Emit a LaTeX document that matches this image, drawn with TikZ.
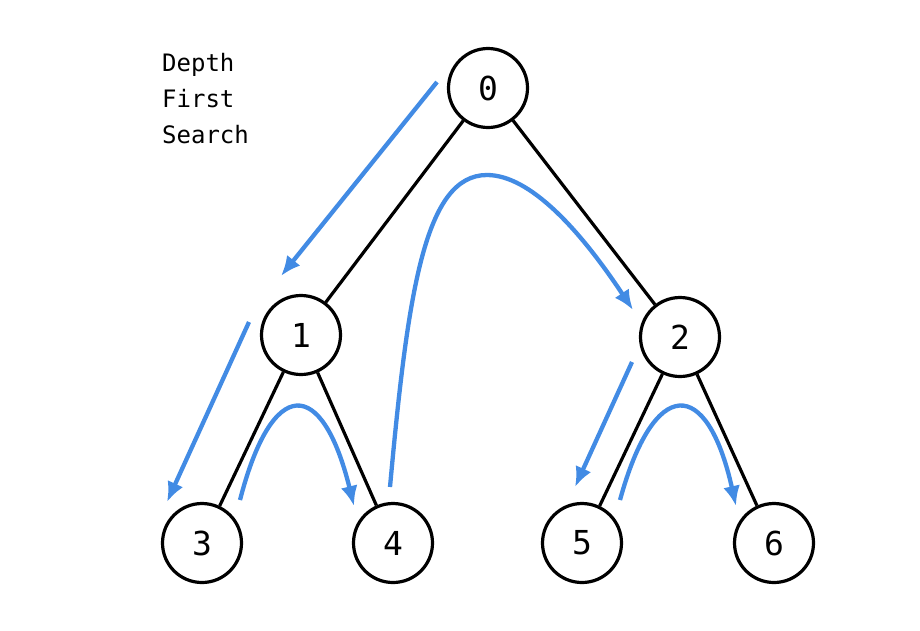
\documentclass[tikz,border=0pt]{standalone}
\usepackage{fontspec}
\setmonofont{DejaVu Sans Mono}
\newfontfamily\digitfont{DejaVu Sans Mono}
\usetikzlibrary{arrows.meta}
\definecolor{dfsblue}{RGB}{66,139,228}
\begin{document}
\begin{tikzpicture}[x=1pt,y=-1pt,
  vert/.style={circle,draw=black,line width=3.2pt,minimum size=79pt,inner sep=0pt,
    font=\digitfont\fontsize{33}{33}\selectfont},
  edge/.style={draw=black,line width=3.2pt},
  walk/.style={draw=dfsblue,line width=4.3pt,-{Latex[length=20pt,width=17pt]}},
  title/.style={anchor=base west,inner sep=0pt,font=\ttfamily\fontsize{24}{24}\selectfont}]
\useasboundingbox (0,0) rectangle (920,630);
\node[title] (t1) at (162,71) {Depth};
\node[title] (t2) at (162,107) {First};
\node[title] (t3) at (162,143) {Search};
\node[vert] (n0) at (488,88) {0};
\node[vert] (n1) at (301,335) {1};
\node[vert] (n2) at (680,337) {2};
\node[vert] (n3) at (202,543) {3};
\node[vert] (n4) at (393,543) {4};
\node[vert] (n5) at (582,543) {5};
\node[vert] (n6) at (774,543) {6};
\draw[edge] (n0) -- (n1);
\draw[edge] (n0) -- (n2);
\draw[edge] (n1) -- (n3);
\draw[edge] (n1) -- (n4);
\draw[edge] (n2) -- (n5);
\draw[edge] (n2) -- (n6);
\coordinate (a1s) at (437,82);
\coordinate (a1e) at (281,276);
\coordinate (a2s) at (249,322);
\coordinate (a2e) at (167,502);
\coordinate (a3s) at (240,500);
\coordinate (a3e) at (354,506);
\coordinate (a4s) at (390,487);
\coordinate (a4p) at (487,175);
\coordinate (a4e) at (633,310);
\coordinate (a5s) at (632,362);
\coordinate (a5e) at (575,487);
\coordinate (a6s) at (620,500);
\coordinate (a6e) at (736,506);
\draw[walk] (a1s) -- (a1e);
\draw[walk] (a2s) -- (a2e);
\draw[walk] (a3s) .. controls (272,376) and (322,376) .. (a3e);
\draw[walk] (a4s) .. controls (408,290) and (425,175) .. (a4p)
  .. controls (530,175) and (580,230) .. (a4e);
\draw[walk] (a5s) -- (a5e);
\draw[walk] (a6s) .. controls (654,376) and (707,376) .. (a6e);
\end{tikzpicture}
\end{document}
